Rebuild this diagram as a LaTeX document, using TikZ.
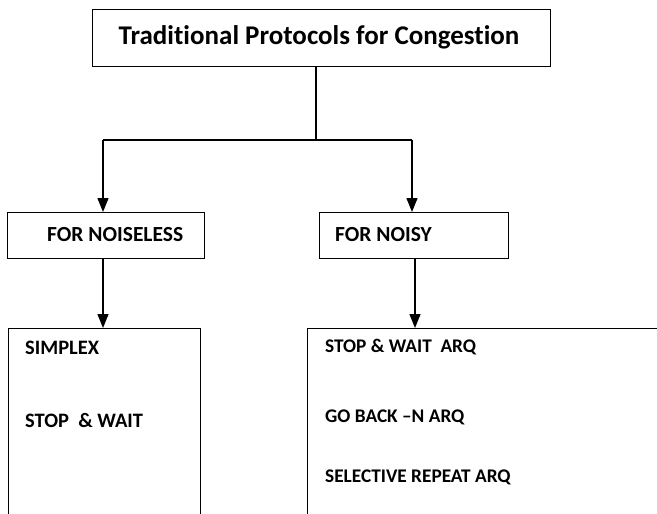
\documentclass[tikz,border=0pt]{standalone}
\usepackage{fontspec}
\setmainfont[RawFeature={-liga;-dlig}]{Carlito}
\usetikzlibrary{arrows.meta}
\begin{document}
\begin{tikzpicture}[x=1pt,y=-1pt,
  box/.style={draw=black,line width=1.3pt,rectangle,inner sep=0pt,anchor=north west},
  lbl/.style={font=\bfseries\fontsize{20.5}{24}\selectfont,anchor=west,inner sep=0pt},
  lblr/.style={font=\bfseries\fontsize{19.3}{24}\selectfont,anchor=west,inner sep=0pt},
  head/.style={font=\bfseries\fontsize{21.5}{26}\selectfont,anchor=west,inner sep=0pt},
  conn/.style={line width=1.3pt,draw=black},
  arr/.style={conn,-{Triangle[width=11pt,length=14pt]}}]
\useasboundingbox (0,0) rectangle (657,514);
\clip (0,0) rectangle (657,514);
% top box
\node[box,minimum width=458pt,minimum height=57pt] (top) at (92,9) {};
\node[font=\bfseries\fontsize{27}{32}\selectfont,inner sep=0pt] (toptxt) at (319,37) {Traditional Protocols for Congestion};
% middle boxes
\node[box,minimum width=197pt,minimum height=46pt] (nl) at (7,212) {};
\node[head] (nltxt) at (47,235) {FOR NOISELESS};
\node[box,minimum width=189pt,minimum height=46pt] (ny) at (319,212) {};
\node[head] (nytxt) at (335,235) {FOR NOISY};
% bottom boxes (extend beyond the page)
\node[box,minimum width=192pt,minimum height=220pt] (bl) at (8,328) {};
\node[box,minimum width=370pt,minimum height=220pt] (br) at (307,328) {};
\node[lbl] (s1) at (25,348) {SIMPLEX};
\node[lbl] (s2) at (25,420) {STOP\ \ \& WAIT};
\node[lblr] (r1) at (325,347) {STOP \& WAIT \ ARQ};
\node[lblr] (r2) at (325,417) {GO BACK –N ARQ};
\node[lblr] (r3) at (325,477) {SELECTIVE REPEAT ARQ};
% connectors
\coordinate (split) at (316,140);
\coordinate (jl) at (103,140);
\coordinate (jr) at (412,140);
\draw[conn] (top.south -| split) -- (split);
\draw[conn] (jl) -- (jr);
\draw[arr] (jl) -- (jl |- nl.north);
\draw[arr] (jr) -- (jr |- ny.north);
\draw[arr] (nl.south -| jl) -- (jl |- bl.north);
\draw[arr] (ny.south -| 415,0) -- (415,0 |- br.north);
\end{tikzpicture}
\end{document}
